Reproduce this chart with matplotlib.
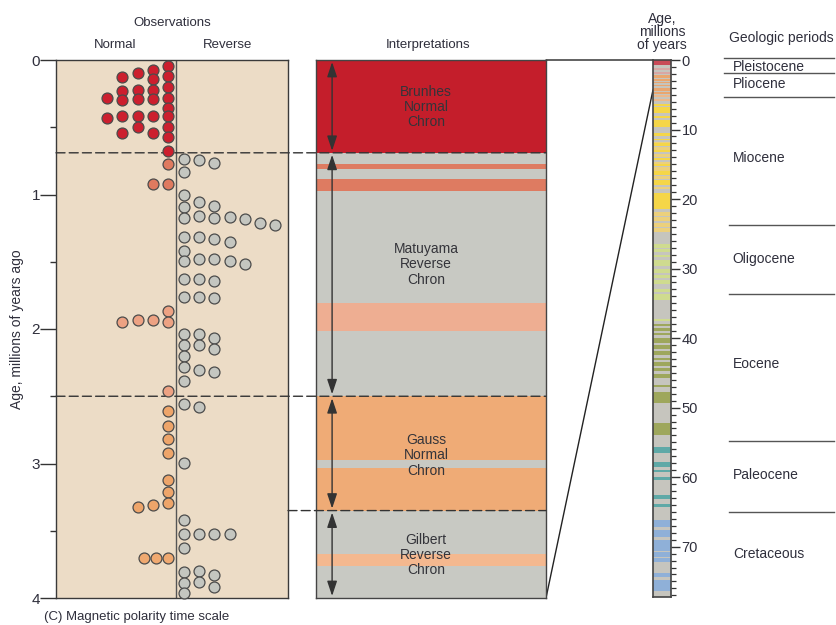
import matplotlib
matplotlib.use('Agg')
from matplotlib import pyplot as plt
from matplotlib.patches import ConnectionPatch

plt.rcParams['font.family'] = ['Liberation Sans', 'DejaVu Sans']
TXT = '#2f2f3c'

# ---- observations: age (Myr) and column (1 = next to centre line) ----
brunhes_age = [0.045, 0.12, 0.20, 0.28, 0.36, 0.42, 0.50, 0.57, 0.68,
               0.074, 0.14, 0.22, 0.29, 0.42, 0.54,
               0.10, 0.22, 0.29, 0.42, 0.50,
               0.13, 0.23, 0.30, 0.42, 0.54,
               0.28, 0.43]
brunhes_col = [1, 1, 1, 1, 1, 1, 1, 1, 1,
               2, 2, 2, 2, 2, 2,
               3, 3, 3, 3, 3,
               4, 4, 4, 4, 4,
               5, 5]
jaramillo_age = [0.77, 0.92, 0.92]
jaramillo_col = [1, 1, 2]
olduvai_age = [1.866, 1.948, 1.933, 1.933, 1.948, 2.46]
olduvai_col = [1, 1, 2, 3, 4, 1]
gauss_age = [2.61, 2.72, 2.82, 2.92, 3.12, 3.21, 3.29, 3.31, 3.32]
gauss_col = [1, 1, 1, 1, 1, 1, 1, 2, 3]
gilbert_age = [3.70, 3.70, 3.70]
gilbert_col = [1, 1.8, 2.6]

rev_col1 = [0.736, 0.833, 1.004, 1.093, 1.175, 1.316, 1.42, 1.494, 1.628, 1.762,
            2.037, 2.119, 2.20, 2.283, 2.387, 2.558, 2.996, 3.42, 3.524, 3.628,
            3.807, 3.888, 3.963]
rev_col2 = [0.743, 1.056, 1.16, 1.316, 1.48, 1.628, 1.762, 2.037, 2.119, 2.305,
            2.58, 3.524, 3.80, 3.88]
rev_col3 = [0.766, 1.085, 1.175, 1.33, 1.48, 1.643, 1.77, 2.067, 2.149, 2.32,
            3.524, 3.83, 3.918]
rev_col4 = [1.167, 1.353, 1.494, 3.524]
rev_col5 = [1.182, 1.517]
rev_col6 = [1.212]
rev_col7 = [1.227]
rev_cols = [rev_col1, rev_col2, rev_col3, rev_col4, rev_col5, rev_col6, rev_col7]

# ---- interpretation column ----
chron_bounds = [0.69, 2.50, 3.35]
normal_bands = [(0.0, 0.69, '#c41e2b'), (0.77, 0.81, '#de7b61'), (0.885, 0.976, '#de7b61'),
                (1.807, 2.015, '#eeae92'), (2.50, 2.974, '#efab76'), (3.036, 3.35, '#efab76'),
                (3.673, 3.762, '#f4b88f')]
chron_names = ['Brunhes\nNormal\nChron', 'Matuyama\nReverse\nChron',
               'Gauss\nNormal\nChron', 'Gilbert\nReverse\nChron']
chron_label_age = [0.35, 1.52, 2.94, 3.68]
chron_span = [(0.0, 0.69), (0.69, 2.50), (2.50, 3.35), (3.35, 4.0)]

# ---- long time scale bar (Myr) ----
bar_stripes = {
    '#c94a57': [(0.0, 0.75)],
    '#d9a7a4': [(0.95, 1.05), (1.2, 1.4), (1.75, 1.95)],
    '#e9a66f': [(2.2, 2.6), (2.7, 3.05), (3.1, 3.35), (3.6, 3.8), (4.0, 4.5), (4.6, 4.9)],
    '#ebb88c': [(5.0, 5.3), (5.6, 5.9)],
    '#f5d648': [(6.3, 6.6), (6.7, 7.6), (8.0, 8.3), (8.6, 9.6), (10.5, 11.0), (11.3, 11.5),
                (12.0, 12.4), (13.0, 13.3), (14.1, 14.4), (15.0, 15.2), (16.0, 16.5),
                (17.3, 18.0), (19.2, 21.5)],
    '#ecd07c': [(11.8, 12.0), (12.5, 12.9), (13.5, 14.0), (14.6, 14.9), (15.4, 15.9),
                (16.7, 17.1), (18.2, 18.6), (21.8, 22.4), (22.6, 23.2), (23.4, 24.0),
                (24.2, 24.8)],
    '#cfdb8f': [(26.4, 27.0), (27.2, 27.6), (28.0, 28.4), (28.8, 29.6), (30.0, 30.6),
                (30.9, 31.3), (31.6, 32.2), (33.0, 33.4), (33.6, 34.5), (37.2, 37.5)],
    '#9ea75c': [(38.0, 38.3), (38.6, 39.0), (39.3, 39.6), (40.0, 40.7), (41.0, 41.5),
                (41.8, 42.5), (42.8, 43.2), (43.5, 44.0), (44.3, 44.8), (45.1, 45.7),
                (46.8, 47.0), (47.8, 49.4), (52.2, 54.0)],
    '#5fa9a7': [(55.7, 56.6), (57.8, 58.5), (59.0, 59.3), (60.0, 60.4), (62.6, 63.1),
                (63.8, 64.3)],
    '#8fb0d8': [(66.2, 67.2), (67.6, 68.6), (69.1, 70.6), (70.8, 71.5), (71.7, 72.2),
                (73.8, 74.3), (74.8, 76.4)],
}
period_bounds = [0, 1.8, 5.3, 23.8, 33.7, 54.8, 65.0]
period_names = ['Pleistocene', 'Pliocene', 'Miocene', 'Oligocene', 'Eocene', 'Paleocene', 'Cretaceous']
period_label_age = [1.0, 3.5, 14.1, 28.6, 43.7, 59.7, 71.1]


def fx(px):
    return px / 836.0


def fy(py):
    return 1 - py / 625.0


fig = plt.figure(figsize=(8.36, 6.25), dpi=100)

# observations panel
ax_obs = fig.add_axes([fx(56), fy(598), fx(288) - fx(56), fy(60) - fy(598)], zorder=3)
ax_obs.set_facecolor('#ecdcc6')
ax_obs.set_xlim(-7.84, 7.32)
ax_obs.set_ylim(4, 0)
ax_obs.axvline(0, color='#555555', lw=1, zorder=1)


def col_x(cols, side):
    return [side * (c - 0.5) for c in cols]


dot = dict(s=62, edgecolors='#4b4b4b', linewidths=0.9, zorder=4, clip_on=False)
ax_obs.scatter(col_x(brunhes_col, -1), brunhes_age, c='#cc1f2e', **dot)
ax_obs.scatter(col_x(jaramillo_col, -1), jaramillo_age, c='#df7a5f', **dot)
ax_obs.scatter(col_x(olduvai_col, -1), olduvai_age, c='#eda283', **dot)
ax_obs.scatter(col_x(gauss_col, -1), gauss_age, c='#eea56a', **dot)
ax_obs.scatter(col_x(gilbert_col, -1), gilbert_age, c='#f0a970', **dot)
for k, ages in enumerate(rev_cols):
    ax_obs.scatter(col_x([k + 1] * len(ages), 1), ages, c='#c4c6c0', **dot)

ax_obs.set_xticks([])
ax_obs.set_yticks([0, 1, 2, 3, 4])
ax_obs.set_yticks([0.5, 1.5, 2.5, 3.5], minor=True)
ax_obs.tick_params(which='major', length=11.5, width=1, color='#333333', labelsize=11,
                   labelcolor=TXT, pad=0)
ax_obs.tick_params(which='minor', length=4.3, width=1, color='#333333')
for s in ax_obs.spines.values():
    s.set_color('#3a3a3a')
    s.set_linewidth(1)
ax_obs.set_ylabel('Age, millions of years ago', fontsize=10, color=TXT)
ax_obs.yaxis.set_label_coords(-0.14, 0.5)

fig.text(fx(172), fy(23), 'Observations', ha='center', va='center', fontsize=9.5, color=TXT)
fig.text(fx(115), fy(45), 'Normal', ha='center', va='center', fontsize=9.5, color=TXT)
fig.text(fx(228), fy(45), 'Reverse', ha='center', va='center', fontsize=9.5, color=TXT)
fig.text(fx(44), fy(617), '(C) Magnetic polarity time scale', ha='left', va='center',
         fontsize=9.5, color=TXT)

# interpretations panel
ax_int = fig.add_axes([fx(316), fy(598), fx(546) - fx(316), fy(60) - fy(598)], zorder=1)
ax_int.set_facecolor('#c8c9c3')
ax_int.set_xlim(0, 1)
ax_int.set_ylim(4, 0)
for top, bot, c in normal_bands:
    ax_int.axhspan(top, bot, color=c, lw=0)
ax_int.set_xticks([])
ax_int.set_yticks([])
for s in ax_int.spines.values():
    s.set_color('#444444')
    s.set_linewidth(1)
for name, age in zip(chron_names, chron_label_age):
    ax_int.text(0.478, age, name, ha='center', va='center', fontsize=10,
                color='#34343a', linespacing=1.1)
for top, bot in chron_span:
    ax_int.annotate('', xy=(0.07, top + 0.015), xytext=(0.07, bot - 0.015),
                    arrowprops=dict(arrowstyle='<|-|>,head_length=0.9,head_width=0.3',
                                    color='#333333', lw=1, shrinkA=0, shrinkB=0))
fig.text(fx(428), fy(45), 'Interpretations', ha='center', va='center', fontsize=9.5, color=TXT)

# dashed chron boundaries across both panels
dash_start = [0.0, 0.0, 1.0]
for b, x0 in zip(chron_bounds, dash_start):
    con = ConnectionPatch(xyA=(x0, b), coordsA=ax_obs.get_yaxis_transform(),
                          xyB=(1.0, b), coordsB=ax_int.get_yaxis_transform(),
                          color='#333333', lw=1, linestyle=(0, (6.5, 3)), zorder=2)
    ax_obs.add_artist(con)
    con.set_clip_on(False)

# long scale bar
ax_bar = fig.add_axes([fx(653), fy(596.7), fx(671) - fx(653), fy(60) - fy(596.7)], zorder=2)
ax_bar.set_facecolor('#c6c5be')
ax_bar.set_xlim(0, 1)
ax_bar.set_ylim(77.2, 0)
for c, spans in bar_stripes.items():
    for top, bot in spans:
        ax_bar.axhspan(top, bot, color=c, lw=0)
ax_bar.set_xticks([])
ax_bar.yaxis.tick_right()
ax_bar.set_yticks(range(0, 71, 10))
ax_bar.set_yticks(range(0, 78), minor=True)
ax_bar.tick_params(which='major', length=6.5, width=1, color='#333333', labelsize=10.5,
                   labelcolor=TXT, pad=1)
ax_bar.tick_params(which='minor', length=3.5, width=0.9, color='#333333')
for s in ax_bar.spines.values():
    s.set_color('#444444')
    s.set_linewidth(1.2)
fig.text(fx(662), fy(32), 'Age,\nmillions\nof years', ha='center', va='center',
         fontsize=10, color=TXT, linespacing=0.95)

# lines linking the interpretation column to the long scale
for a_int, a_bar in [(0.0, 0.0), (4.0, 4.3)]:
    con = ConnectionPatch(xyA=(1.0, a_int), coordsA=ax_int.transData,
                          xyB=(0.0, a_bar), coordsB=ax_bar.transData,
                          color='#222222', lw=1)
    fig.add_artist(con)

# geologic periods
ax_per = fig.add_axes([fx(724), fy(596.7), fx(834) - fx(724), fy(60) - fy(596.7)])
ax_per.set_ylim(77.2, 0)
ax_per.set_xlim(0, 1)
ax_per.axis('off')
for i, b in enumerate(period_bounds):
    x0 = 0.0 if i < 3 else 0.045
    ax_per.plot([x0, 1.0], [b - 0.3 if i == 0 else b] * 2, color='#555555', lw=1, clip_on=False)
for name, age in zip(period_names, period_label_age):
    ax_per.text(0.08, age, name, ha='left', va='center', fontsize=10, color=TXT)
ax_per.text(0.52, -3.2, 'Geologic periods', ha='center', va='center', fontsize=10,
            color=TXT, clip_on=False)

fig.savefig('out.png', dpi=100)
